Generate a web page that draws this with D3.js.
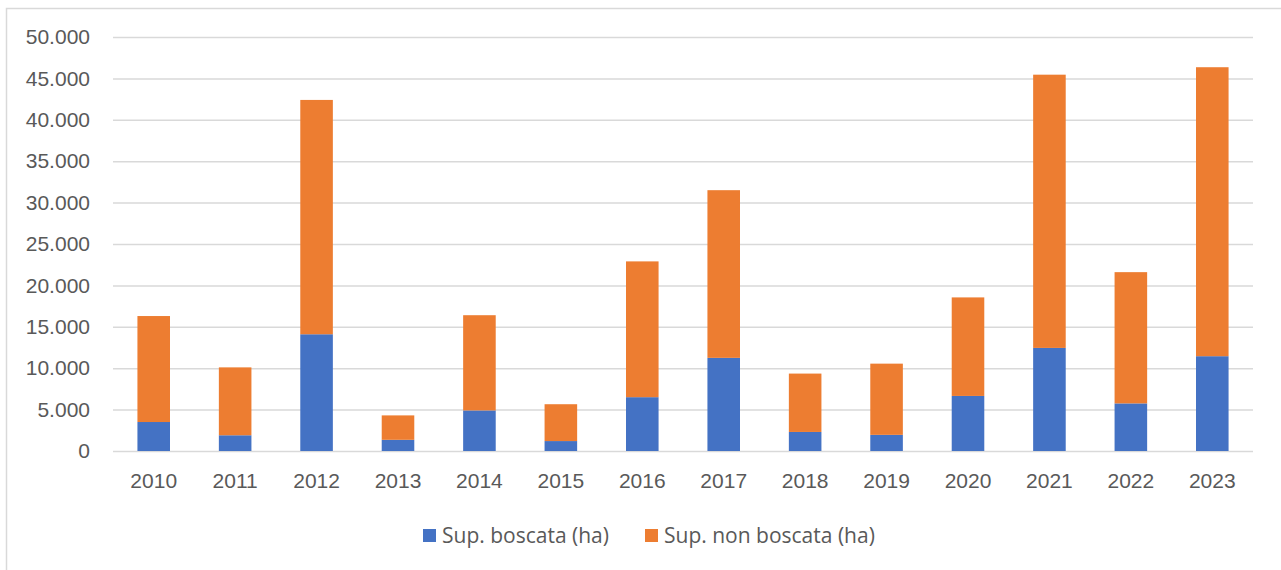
<!DOCTYPE html>
<html>
<head>
<meta charset="utf-8">
<script src="https://cdn.jsdelivr.net/npm/d3@7"></script>
<style>
  body { margin: 0; background: #fff; }
  svg { display: block; font-family: "Open Sans", "Noto Sans", sans-serif; }
</style>
</head>
<body>
<div id="chart"></div>
<script>
// years on the x axis
const years = ["2010", "2011", "2012", "2013", "2014", "2015", "2016", "2017", "2018", "2019", "2020", "2021", "2022", "2023"]
// burnt area, hectares
const boscata = [3500, 1900, 14100, 1350, 4900, 1200, 6500, 11250, 2300, 1950, 6650, 12450, 5750, 11450]
const nonBoscata = [12800, 8200, 28300, 2950, 11500, 4450, 16400, 20250, 7050, 8600, 11900, 33000, 15850, 34900]
const seriesNames = ["Sup. boscata (ha)", "Sup. non boscata (ha)"]
const yTicks = [0, 5000, 10000, 15000, 20000, 25000, 30000, 35000, 40000, 45000, 50000]

const width = 1281, height = 570
const margin = {left: 113, right: 28, top: 37, bottom: 119}
const colors = ["#4472C4", "#ED7D31"]

const svg = d3.select("#chart")
    .append("svg")
    .attr("width", width)
    .attr("height", height)

// chart area border
svg.append("rect")
    .attr("x", 6.5).attr("y", 8.5)
    .attr("width", width + 10).attr("height", height + 10)
    .attr("fill", "none")
    .attr("stroke", "#d9d9d9")
    .attr("stroke-width", 1.5)

const x = d3.scaleBand()
    .domain(years)
    .range([margin.left, width - margin.right])
    .paddingInner(0.6)
    .paddingOuter(0.3)

const y = d3.scaleLinear()
    .domain([0, 50000])
    .range([height - margin.bottom, margin.top])

const fmt = v => d3.format(",")(v).replace(/,/g, ".")

// gridlines + y labels
const yAxis = d3.axisLeft(y)
    .tickValues(yTicks)
    .tickSize(-(width - margin.left - margin.right))
    .tickPadding(23)
    .tickFormat(fmt)

const gy = svg.append("g")
    .attr("transform", "translate(" + margin.left + ",0)")
    .call(yAxis)
gy.select(".domain").remove()
gy.selectAll(".tick line")
    .attr("stroke", "#d9d9d9")
    .attr("stroke-width", 1.5)
gy.selectAll(".tick text")
    .attr("fill", "#595959")
    .style("font-size", "21px")

// stack the two series
const table = years.map((yr, i) => ({year: yr, b: boscata[i], n: nonBoscata[i]}))
const stacked = d3.stack().keys(["b", "n"])(table)

svg.append("g")
    .selectAll("g")
    .data(stacked)
    .enter()
    .append("g")
    .attr("fill", (d, i) => colors[i])
    .selectAll("rect")
    .data(d => d)
    .enter()
    .append("rect")
    .attr("x", d => x(d.data.year))
    .attr("width", x.bandwidth())
    .attr("y", d => y(d[1]))
    .attr("height", d => y(d[0]) - y(d[1]))

// x labels
const gx = svg.append("g")
    .attr("transform", "translate(0," + (height - margin.bottom) + ")")
    .call(d3.axisBottom(x).tickSize(0).tickPadding(22))
gx.select(".domain").remove()
gx.selectAll(".tick text")
    .attr("fill", "#595959")
    .style("font-size", "21px")

// legend
const legendX = [423, 645]
const legend = svg.append("g")
    .selectAll("g")
    .data(seriesNames)
    .enter()
    .append("g")
    .attr("transform", (d, i) => "translate(" + legendX[i] + ",529)")
legend.append("rect")
    .attr("width", 13).attr("height", 13)
    .attr("fill", (d, i) => colors[i])
legend.append("text")
    .attr("x", 19).attr("y", 7)
    .attr("dy", "0.35em")
    .attr("fill", "#595959")
    .style("font-size", "21px")
    .text(d => d)
</script>
</body>
</html>
